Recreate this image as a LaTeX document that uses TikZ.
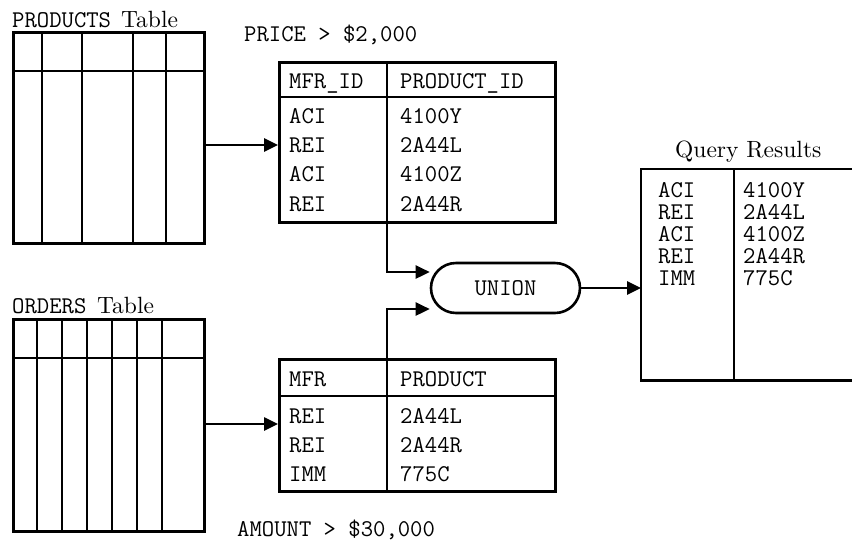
\documentclass[tikz,border=0pt]{standalone}
\usepackage{fontspec}
\newfontfamily\lmten{lmroman10-regular}[Extension=.otf]
\usetikzlibrary{arrows.meta,shapes.misc}
\begin{document}
\begin{tikzpicture}[x=1pt,y=-1pt,
  lw/.style={line width=2.6pt},
  box/.style={draw,lw,rectangle,inner sep=0pt,anchor=north west},
  arr/.style={lw,-{Triangle[length=14pt,width=13pt]}},
  mono/.style={font=\fontsize{24}{24}\selectfont\ttfamily,inner sep=0pt,anchor=base west},
  serif/.style={font=\fontsize{23.5}{23.5}\selectfont\lmten,inner sep=0pt,anchor=base west}]
\useasboundingbox (0,0) rectangle (852,542);
% PRODUCTS table
\node[box,minimum width=191pt,minimum height=211pt] (prod) at (12,31) {};
\draw[lw] (12,71) -- (203,71);
\foreach \x in {42,82,133,166} \draw[lw] (\x,31) -- (\x,242);
\node[mono] (prodlbl) at (12,27) {PRODUCTS};
\node[serif] (prodtbl) at (121,27) {Table};
% ORDERS table
\node[box,minimum width=191pt,minimum height=212pt] (ord) at (12,318) {};
\draw[lw] (12,358) -- (203,358);
\foreach \x in {37,62,87,112,137,162} \draw[lw] (\x,318) -- (\x,530);
\node[mono] (ordlbl) at (12,313) {ORDERS};
\node[serif] (ordtbl) at (97,313) {Table};
% Top result table
\node[box,minimum width=276pt,minimum height=160pt] (t1) at (278,61) {};
\draw[lw] (278,97) -- (554,97);
\draw[lw] (387,61) -- (387,221);
\node[mono] (pricelbl) at (244,41) {PRICE > \$2,000};
\node[mono] (t1h1) at (289,88) {MFR\_ID};
\node[mono] (t1h2) at (400,88) {PRODUCT\_ID};
\foreach \a/\b [count=\i] in {ACI/4100Y,REI/2A44L,ACI/4100Z,REI/2A44R}{
  \node[mono] (t1a\i) at (289,94+29.3*\i) {\a};
  \node[mono] (t1b\i) at (400,94+29.3*\i) {\b};
}
% Bottom result table
\node[box,minimum width=276pt,minimum height=132pt] (t2) at (278,358) {};
\draw[lw] (278,396) -- (554,396);
\draw[lw] (387,358) -- (387,490);
\node[mono] (amtlbl) at (237,536.5) {AMOUNT > \$30,000};
\node[mono] (t2h1) at (289,386) {MFR};
\node[mono] (t2h2) at (400,386) {PRODUCT};
\foreach \a/\b [count=\i] in {REI/2A44L,REI/2A44R,IMM/775C}{
  \node[mono] (t2a\i) at (289,394+29.3*\i) {\a};
  \node[mono] (t2b\i) at (400,394+29.3*\i) {\b};
}
% UNION
\node[draw,lw,rounded rectangle,minimum width=149pt,minimum height=50pt,inner sep=0pt,
  font=\fontsize{24}{24}\selectfont\ttfamily] (un) at (505.5,288) {UNION};
% Results
\node[inner sep=0pt,minimum width=211pt,minimum height=211pt,anchor=north west] (res) at (641,169) {};
\draw[lw] (res.north east) -- (res.north west) -- (res.south west) -- (res.south east);
\draw[lw] (734,169) -- (734,380);
\node[serif] (reslbl) at (675,157) {Query Results};
\foreach \a/\b [count=\i] in {ACI/4100Y,REI/2A44L,ACI/4100Z,REI/2A44R,IMM/775C}{
  \node[mono] (ra\i) at (658,175+22*\i) {\a};
  \node[mono] (rb\i) at (743,175+22*\i) {\b};
}
% connectors
\coordinate (y1) at (0,145);
\coordinate (y2) at (0,424);
\coordinate (c1) at (387,272);
\coordinate (c2) at (387,309);
\draw[arr] (prod.east |- y1) -- (t1.west |- y1);
\draw[arr] (ord.east |- y2) -- (t2.west |- y2);
\draw[arr] (t1.south -| c1) |- (un.west |- c1);
\draw[arr] (t2.north -| c2) |- (un.west |- c2);
\draw[arr] (un.east) -- (res.west |- un.east);
\end{tikzpicture}
\end{document}
